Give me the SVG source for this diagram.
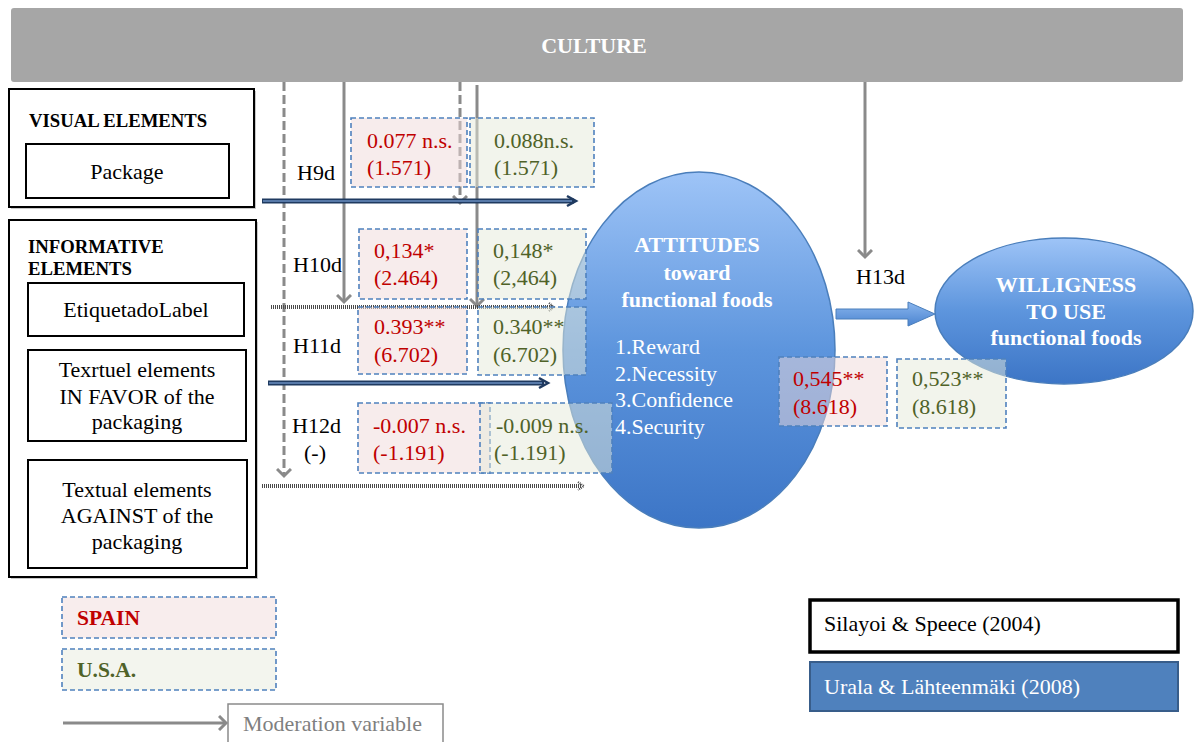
<svg xmlns="http://www.w3.org/2000/svg" width="1194" height="742" viewBox="0 0 1194 742" font-family="'Liberation Serif', 'DejaVu Serif', serif">
  <defs>
    <style>
      .box { fill: #ffffff; stroke: #000000; stroke-width: 2; }
      .shadow { fill: #c8c8c8; }
      .lbl { font-size: 22px; fill: #000000; }
      .head { font-size: 18.7px; font-weight: bold; fill: #000000; }
      .white { fill: #ffffff; font-size: 22px; }
      .bold { font-weight: bold; }
      .es { fill: #efdada; fill-opacity: 0.5; stroke: #4f81bd; stroke-width: 1.6; stroke-dasharray: 5 3; }
      .us { fill: #e5e9d9; fill-opacity: 0.5; stroke: #4f81bd; stroke-width: 1.6; stroke-dasharray: 5 3; }
      .red { fill: #c00000; font-size: 22px; }
      .olive { fill: #4f6228; font-size: 22px; }
      .mod { stroke: #8a8a8a; stroke-width: 3; fill: none; }
      .moddash { stroke: #8a8a8a; stroke-width: 3; fill: none; stroke-dasharray: 9 4; }
      .navy { stroke: #1f3a60; stroke-width: 5; fill: none; }
      .navyin { stroke: #6b8fc0; stroke-width: 1.5; fill: none; }
      .dotted { stroke: #4a4a4a; stroke-width: 4; fill: none; stroke-dasharray: 1 1; }
    </style>
    <linearGradient id="blueFill" x1="0" y1="0" x2="0" y2="1">
      <stop offset="0" stop-color="#9ec4f7"/>
      <stop offset="0.5" stop-color="#5d95dd"/>
      <stop offset="1" stop-color="#3c75c6"/>
    </linearGradient>
    <linearGradient id="arrowFill" x1="0" y1="0" x2="0" y2="1">
      <stop offset="0" stop-color="#8ab6ee"/>
      <stop offset="1" stop-color="#4b84d0"/>
    </linearGradient>
    <marker id="grayHead" markerWidth="16" markerHeight="16" refX="8" refY="8" orient="auto" markerUnits="userSpaceOnUse">
      <path d="M1,1 L8,8 L1,15" stroke="#8a8a8a" stroke-width="3" fill="none"/>
    </marker>
  </defs>

  <rect width="1194" height="742" fill="#ffffff"/>

  <!-- moderating variable bar -->
  <g id="culture">
    <rect x="11" y="8" width="1172" height="74" rx="3" fill="#a6a6a6"/>
    <text x="594" y="53" text-anchor="middle" class="bold" font-size="22" fill="#ffffff">CULTURE</text>
  </g>

  <!-- visual elements -->
  <g id="visual-elements">
    <rect class="shadow" x="11" y="91" width="245" height="118"/>
    <rect class="box" x="9" y="89" width="245" height="118"/>
    <text x="29" y="127" class="head">VISUAL ELEMENTS</text>
  </g>
  <g id="package">
    <rect class="box" x="26" y="144" width="203" height="54"/>
    <text x="127" y="179" text-anchor="middle" class="lbl">Package</text>
  </g>

  <!-- informative elements -->
  <g id="informative-elements">
    <rect class="shadow" x="11" y="222" width="247" height="357"/>
    <rect class="box" x="9" y="220" width="247" height="357"/>
    <text x="28" y="253" class="head">INFORMATIVE</text>
    <text x="28" y="275" class="head">ELEMENTS</text>
  </g>
  <g id="label-node">
    <rect class="box" x="28" y="283" width="216" height="53"/>
    <text x="136" y="317" text-anchor="middle" class="lbl">EtiquetadoLabel</text>
  </g>
  <g id="in-favor">
    <rect class="box" x="28" y="350" width="218" height="91"/>
    <text x="137" y="377" text-anchor="middle" class="lbl">Texrtuel elements</text>
    <text x="137" y="404" text-anchor="middle" class="lbl">IN FAVOR of the</text>
    <text x="137" y="429" text-anchor="middle" class="lbl">packaging</text>
  </g>
  <g id="against">
    <rect class="box" x="28" y="460" width="219" height="108"/>
    <text x="137" y="497" text-anchor="middle" class="lbl">Textual elements</text>
    <text x="137" y="523" text-anchor="middle" class="lbl">AGAINST of the</text>
    <text x="137" y="549" text-anchor="middle" class="lbl">packaging</text>
  </g>

  <!-- connectors -->
  <g id="connectors">
    <!-- moderation lines from CULTURE -->
    <line class="moddash" x1="284" y1="82" x2="284" y2="476" marker-end="url(#grayHead)"/>
    <line class="mod" x1="344" y1="82" x2="344" y2="302" marker-end="url(#grayHead)"/>
    <line class="moddash" x1="460" y1="82" x2="460" y2="203" marker-end="url(#grayHead)"/>
    <line class="mod" x1="477" y1="85" x2="477" y2="306" marker-end="url(#grayHead)"/>
    <line class="mod" x1="865" y1="82" x2="865" y2="257" marker-end="url(#grayHead)"/>
    <!-- H9d -->
    <line class="navy" x1="262" y1="201" x2="574" y2="201"/>
    <line class="navyin" x1="263" y1="201" x2="572" y2="201"/>
    <path d="M567,196 L576,201 L567,206" stroke="#1f3a60" stroke-width="2.5" fill="none"/>
    <!-- H10d -->
    <line class="dotted" x1="271" y1="307" x2="552" y2="307"/>
    <path d="M549,303 L554,307 L549,311" stroke="#4a4a4a" stroke-width="2" fill="none" stroke-dasharray="1 1"/>
    <!-- H11d -->
    <line class="navy" x1="268" y1="383" x2="544" y2="383"/>
    <line class="navyin" x1="269" y1="383" x2="542" y2="383"/>
    <path d="M539,378 L548,383 L539,388" stroke="#1f3a60" stroke-width="2.5" fill="none"/>
    <!-- H12d -->
    <line class="dotted" x1="262" y1="486" x2="581" y2="486"/>
    <path d="M578,482 L584,486 L578,490" stroke="#4a4a4a" stroke-width="2" fill="none" stroke-dasharray="1 1"/>
  </g>

  <!-- attitudes construct -->
  <g id="attitudes">
    <ellipse cx="699" cy="350" rx="136" ry="178" fill="url(#blueFill)" stroke="#4a7ebb" stroke-width="1.5"/>
    <text x="697" y="252" text-anchor="middle" class="white bold">ATTITUDES</text>
    <text x="697" y="280" text-anchor="middle" class="white bold">toward</text>
    <text x="697" y="307" text-anchor="middle" class="white bold">functional foods</text>
    <text x="615" y="354" class="white">1.Reward</text>
    <text x="615" y="381" class="white">2.Necessity</text>
    <text x="615" y="407" class="white">3.Confidence</text>
    <text x="615" y="434" class="white">4.Security</text>
  </g>

  <!-- H13d path -->
  <g id="h13d-arrow">
    <path d="M836,309 L908,309 L908,302 L935,314 L908,326 L908,319 L836,319 Z" fill="url(#arrowFill)" stroke="#4a7ebb" stroke-width="1"/>
  </g>

  <!-- willingness construct -->
  <g id="willingness">
    <ellipse cx="1064" cy="311" rx="129" ry="73" fill="url(#blueFill)" stroke="#4a7ebb" stroke-width="1.5"/>
    <text x="1066" y="292" text-anchor="middle" class="white bold">WILLIGNESS</text>
    <text x="1066" y="319" text-anchor="middle" class="white bold">TO USE</text>
    <text x="1066" y="345" text-anchor="middle" class="white bold">functional foods</text>
  </g>

  <!-- hypothesis labels -->
  <g id="hypotheses">
    <text x="297" y="180" class="lbl">H9d</text>
    <text x="293" y="272" class="lbl">H10d</text>
    <text x="293" y="353" class="lbl">H11d</text>
    <text x="292" y="433" class="lbl">H12d</text>
    <text x="304" y="460" class="lbl">(-)</text>
    <text x="856" y="284" class="lbl">H13d</text>
  </g>

  <!-- path coefficients (t values) -->
  <g id="coef-h9d-spain">
    <rect class="es" x="351" y="118" width="116" height="69"/>
    <text x="367" y="148" class="red">0.077 n.s.</text>
    <text x="367" y="175" class="red">(1.571)</text>
  </g>
  <g id="coef-h9d-usa">
    <rect class="us" x="470" y="118" width="124" height="69"/>
    <text x="494" y="148" class="olive">0.088n.s.</text>
    <text x="494" y="175" class="olive">(1.571)</text>
  </g>
  <g id="coef-h10d-spain">
    <rect class="es" x="359" y="229" width="108" height="70"/>
    <text x="374" y="258" class="red">0,134*</text>
    <text x="374" y="285" class="red">(2.464)</text>
  </g>
  <g id="coef-h10d-usa">
    <rect class="us" x="478" y="229" width="108" height="70"/>
    <text x="493" y="258" class="olive">0,148*</text>
    <text x="493" y="285" class="olive">(2,464)</text>
  </g>
  <g id="coef-h11d-spain">
    <rect class="es" x="358" y="307" width="109" height="67"/>
    <text x="374" y="334" class="red">0.393**</text>
    <text x="374" y="362" class="red">(6.702)</text>
  </g>
  <g id="coef-h11d-usa">
    <rect class="us" x="478" y="307" width="108" height="68"/>
    <text x="493" y="334" class="olive">0.340**</text>
    <text x="493" y="362" class="olive">(6.702)</text>
  </g>
  <g id="coef-h12d-spain">
    <rect class="es" x="358" y="403" width="132" height="70"/>
    <text x="373" y="433" class="red">-0.007 n.s.</text>
    <text x="373" y="460" class="red">(-1.191)</text>
  </g>
  <g id="coef-h12d-usa">
    <rect class="us" x="480" y="403" width="132" height="70"/>
    <text x="496" y="433" class="olive">-0.009 n.s.</text>
    <text x="494" y="460" class="olive">(-1.191)</text>
  </g>
  <g id="coef-h13d-spain">
    <rect class="es" x="779" y="357" width="108" height="69"/>
    <text x="793" y="386" class="red">0,545**</text>
    <text x="793" y="414" class="red">(8.618)</text>
  </g>
  <g id="coef-h13d-usa">
    <rect class="us" x="897" y="359" width="109" height="69"/>
    <text x="912" y="386" class="olive">0,523**</text>
    <text x="912" y="414" class="olive">(8.618)</text>
  </g>

  <!-- legend: countries -->
  <g id="legend-spain">
    <rect class="es" x="62" y="597" width="214" height="41" style="fill:#f8eded;fill-opacity:1"/>
    <text x="77" y="625" class="bold" font-size="21.5" fill="#c00000">SPAIN</text>
  </g>
  <g id="legend-usa">
    <rect class="us" x="62" y="649" width="214" height="41" style="fill:#f3f5ee;fill-opacity:1"/>
    <text x="77" y="677" class="bold" font-size="21.5" fill="#4f6228">U.S.A.</text>
  </g>

  <!-- legend: moderation -->
  <g id="legend-moderation">
    <line class="mod" x1="63" y1="723" x2="226" y2="723" marker-end="url(#grayHead)"/>
    <rect x="228" y="704" width="215" height="44" fill="#ffffff" stroke="#8a8a8a" stroke-width="1.5"/>
    <text x="243" y="731" font-size="22" fill="#7f7f7f">Moderation variable</text>
  </g>

  <!-- legend: sources -->
  <g id="legend-silayoi">
    <rect x="810" y="600" width="368" height="52" fill="#ffffff" stroke="#000000" stroke-width="3.5"/>
    <text x="824" y="631" class="lbl">Silayoi &amp; Speece (2004)</text>
  </g>
  <g id="legend-urala">
    <rect x="810" y="662" width="368" height="49" fill="#4f81bd" stroke="#385d8a" stroke-width="2"/>
    <text x="824" y="694" font-size="22" fill="#ffffff">Urala &amp; Lähteenmäki (2008)</text>
  </g>
</svg>
